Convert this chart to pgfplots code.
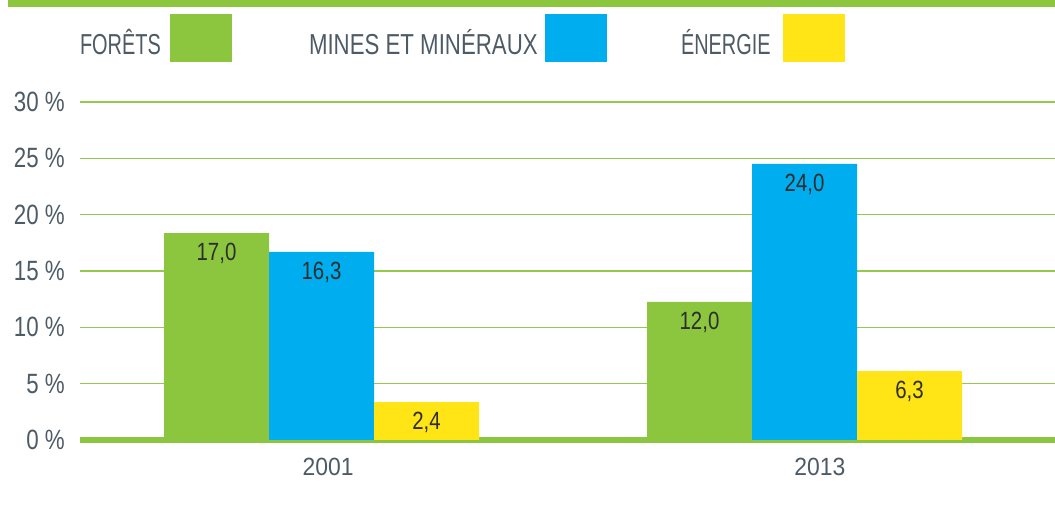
\documentclass[border=0pt]{standalone}
\usepackage{pgfplots}
\pgfplotsset{compat=1.18}
\usepackage{pgfplotstable}
\usepackage{fontspec}
\setmainfont{Liberation Sans}
\newfontfamily\legfont[FakeStretch=0.77]{Liberation Sans}
\newfontfamily\legfontn[FakeStretch=0.69]{Liberation Sans}
\newfontfamily\tickfont[FakeStretch=0.80]{Liberation Sans}
\newfontfamily\yearfont[FakeStretch=0.92]{Liberation Sans}
\newfontfamily\valfont[FakeStretch=0.82]{Liberation Sans}
\definecolor{fgreen}{HTML}{8CC63F}
\definecolor{mblue}{HTML}{00AEEF}
\definecolor{eyellow}{HTML}{FFE516}
\definecolor{txtgrey}{HTML}{4D5B66}
\definecolor{valtxt}{HTML}{2E2E2E}
\definecolor{gridgreen}{HTML}{93CA4C}

\pgfplotstableread{
x y label
0 18.37 17,0
1 12.25 12,0
}\forets
\pgfplotstableread{
x y label
0 16.69 16,3
1 24.50 24,0
}\mines
\pgfplotstableread{
x y label
0 3.37 2,4
1 6.12 6,3
}\energie

\begin{document}
\begin{tikzpicture}
\useasboundingbox (0,0) rectangle (1055bp,506bp);
\fill[fgreen] (8bp,498.5bp) rectangle (1055bp,506bp);
\begin{axis}[
  at={(80bp,66bp)}, anchor=south west,
  scale only axis, width=975bp, height=338bp,
  xmin=-0.5, xmax=1.5186, ymin=0, ymax=30,
  axis lines*=left, axis line style={draw=none},
  major tick length=0pt,
  ytick={5,10,15,20,25,30},
  yticklabels={5 \%,10 \%,15 \%,20 \%,25 \%,30 \%},
  extra y ticks={0}, extra y tick labels={0 \%},
  extra y tick style={grid=major, major grid style={line width=5.5bp, draw=fgreen}},
  ymajorgrids, major grid style={line width=1.4bp, draw=gridgreen},
  yticklabel style={anchor=east, inner sep=0pt, xshift=-15bp, font=\tickfont\fontsize{28}{28}\selectfont, text=txtgrey},
  xtick={0.0135,1.032}, xticklabels={2001,2013},
  xticklabel style={anchor=north, inner sep=0pt, yshift=-18bp, font=\yearfont\fontsize{25}{25}\selectfont, text=txtgrey},
  ybar, bar width=105bp,
  nodes near coords, point meta=explicit symbolic,
  every node near coord/.append style={anchor=center, yshift=-20.5bp, font=\valfont\fontsize{25}{25}\selectfont, text=valtxt},
  legend columns=3, legend plot pos=right,
  legend style={at={(0,1.1893)}, anchor=west, draw=none, fill=none,
    inner sep=0pt, outer sep=0pt, column sep=0pt, row sep=0pt,
    cells={anchor=west},
    nodes={inner sep=0pt, text height=32bp, text depth=0pt, text=txtgrey, font=\legfont\fontsize{29}{29}\selectfont}},
]
\addplot[fill=fgreen, draw=none, bar shift=-105bp,
  legend image code/.code={\fill[fgreen] (0bp,-24bp) rectangle (62bp,24bp);}]
  table[x=x, y=y, meta=label]{\forets};
\addlegendentry{\makebox[90bp][l]{\legfontn FORÊTS}}
\addplot[fill=mblue, draw=none, bar shift=0bp,
  legend image code/.code={\fill[mblue] (0bp,-24bp) rectangle (62bp,24bp);}]
  table[x=x, y=y, meta=label]{\mines};
\addlegendentry{\hspace*{77bp}\makebox[236bp][l]{MINES ET MINÉRAUX}}
\addplot[fill=eyellow, draw=none, bar shift=105bp,
  legend image code/.code={\fill[eyellow] (0bp,-24bp) rectangle (62bp,24bp);}]
  table[x=x, y=y, meta=label]{\energie};
\addlegendentry{\hspace*{74bp}\makebox[102bp][l]{\legfontn ÉNERGIE}}
\end{axis}
\end{tikzpicture}
\end{document}
